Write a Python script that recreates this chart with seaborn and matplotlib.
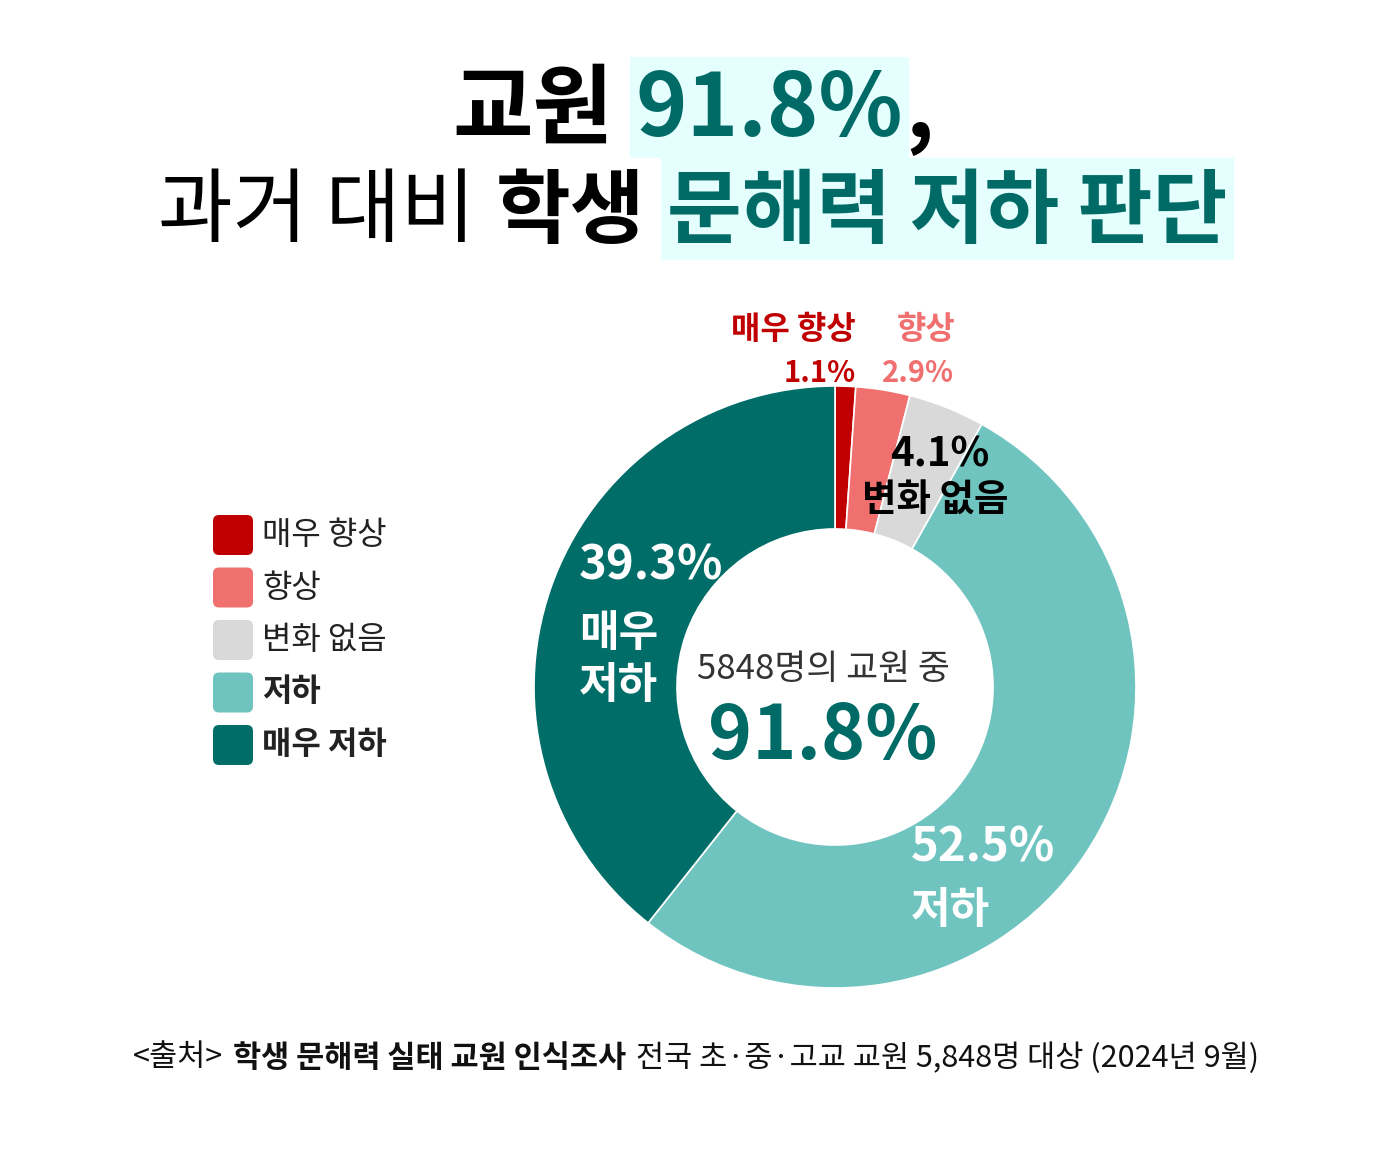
import matplotlib
matplotlib.use("Agg")
import matplotlib.pyplot as plt
import seaborn as sns
from matplotlib.patches import Rectangle, FancyBboxPatch

# Datos
categorias = ["매우 향상", "향상", "변화 없음", "저하", "매우 저하"]
valores = [1.1, 2.9, 4.1, 52.5, 39.3]
colores = ["#C00000", "#F07070", "#D9D9D9", "#70C4C0", "#006D68"]
legend_bold = [False, False, False, True, True]

titulo_1 = [("교원", "black", "#000000", False), ("91.8%", "black", "#006B66", True), (",", "black", "#000000", False)]
titulo_2 = [("과거 대비", "light", "#000000", False), ("학생", "black", "#000000", False),
            ("문해력 저하 판단", "black", "#006B66", True)]
fuente = [("<출처>", "normal"), ("학생 문해력 실태 교원 인식조사", "bold"),
          ("전국 초·중·고교 교원 5,848명 대상 (2024년 9월)", "normal")]
centro_sub = "5848명의 교원 중"
centro_pct = "91.8%"

sns.set_theme(style="white")
plt.rcParams["font.family"] = ["Noto Sans CJK KR", "DejaVu Sans"]

W, H = 1393, 1165
fig = plt.figure(figsize=(W / 100, H / 100), dpi=100)
ax = fig.add_axes([0, 0, 1, 1])
renderer = fig.canvas.get_renderer()

def Y(py):
    return H - py

# Dona
cx, cy, r = 835, Y(687), 301
ax.pie(valores, colors=sns.color_palette(colores), startangle=90, counterclock=False,
       radius=r, center=(cx, cy),
       wedgeprops=dict(width=r * 0.475, edgecolor="white", linewidth=1.2))
ax.set_xlim(0, W)
ax.set_ylim(0, H)
ax.set_aspect("equal")
ax.axis("off")


def linea(piezas, xc, py, size, gaps, box_h=None, box_py=None):
    textos = []
    for s, w, c, hl in piezas:
        t = ax.text(0, Y(py), s, fontsize=size, fontweight=w, color=c,
                    ha="left", va="center", zorder=3)
        textos.append((t, hl))
    anchos = [t.get_window_extent(renderer).width for t, _ in textos]
    if not isinstance(gaps, list):
        gaps = [gaps] * (len(anchos) - 1)
    total = sum(anchos) + sum(gaps)
    x = xc - total / 2
    for i, ((t, hl), a) in enumerate(zip(textos, anchos)):
        t.set_x(x)
        if hl:
            yb = Y(box_py if box_py is not None else py)
            ax.add_patch(Rectangle((x - 6, yb - box_h / 2), a + 12, box_h,
                                   facecolor="#E5FEFE", edgecolor="none", zorder=1))
        x += a + (gaps[i] if i < len(gaps) else 0)


# Titulo
linea(titulo_1, 693, 111, 63, [22, 2], box_h=101, box_py=107)
linea(titulo_2, 693, 213, 58.5, [20, 22], box_h=102, box_py=209)

# Etiquetas de la dona
ax.text(793, Y(330), "매우 향상", fontsize=23, fontweight="bold", color=colores[0], ha="center", va="center")
ax.text(856, Y(373), "1.1%", fontsize=21, fontweight="bold", color=colores[0], ha="right", va="center")
ax.text(926, Y(330), "향상", fontsize=23, fontweight="bold", color=colores[1], ha="center", va="center")
ax.text(918, Y(373), "2.9%", fontsize=21, fontweight="bold", color=colores[1], ha="center", va="center")
ax.text(940, Y(455), "4.1%", fontsize=29, fontweight="black", color="black", ha="center", va="center")
ax.text(935, Y(500), "변화 없음", fontsize=27, fontweight="black", color="black", ha="center", va="center")
ax.text(579, Y(565), "39.3%", fontsize=34, fontweight="black", color="white", ha="left", va="center")
ax.text(579, Y(633), "매우", fontsize=31, fontweight="black", color="white", ha="left", va="center")
ax.text(579, Y(685), "저하", fontsize=31, fontweight="black", color="white", ha="left", va="center")
ax.text(911, Y(848), "52.5%", fontsize=34, fontweight="black", color="white", ha="left", va="center")
ax.text(911, Y(910), "저하", fontsize=31, fontweight="black", color="white", ha="left", va="center")

# Centro
ax.text(823, Y(670), centro_sub, fontsize=25, fontweight="light", color="#333333", ha="center", va="center")
ax.text(823, Y(737), centro_pct, fontsize=54, fontweight="black", color="#006B66", ha="center", va="center")

# Leyenda
for i, (cat, col, b) in enumerate(zip(categorias, colores, legend_bold)):
    yc = Y(535 + i * 52.5)
    ax.add_patch(FancyBboxPatch((213, yc - 20), 40, 40, boxstyle="round,pad=0,rounding_size=6",
                                facecolor=col, edgecolor="none"))
    ax.text(262, yc, cat, fontsize=23, fontweight="black" if b else "normal",
            color="#222222", ha="left", va="center")

# Fuente
linea([(s, w, "#111111", False) for s, w in fuente], 696, 1058, 22, 10)

fig.savefig("out.png", dpi=100)
